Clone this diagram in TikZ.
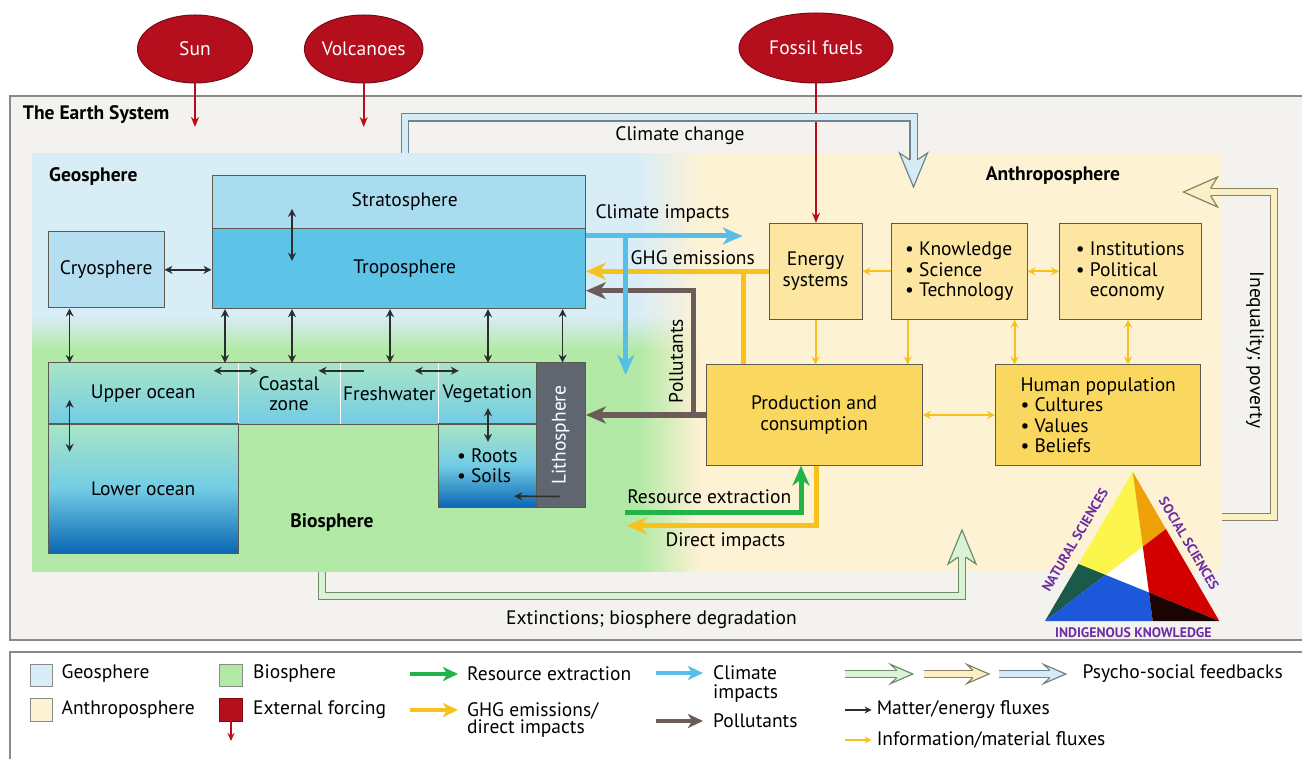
\documentclass[tikz,border=0pt]{standalone}
\usepackage{fontspec}
\setmainfont{PT Sans}
\usetikzlibrary{arrows.meta,shapes.geometric,calc}
\definecolor{esbg}{HTML}{F4F2EE}
\definecolor{esline}{HTML}{8A8A8A}
\definecolor{geoB}{HTML}{D9EDF7}
\definecolor{bioG}{HTML}{B3E9A6}
\definecolor{anthro}{HTML}{FDF2D4}
\definecolor{stratoC}{HTML}{A9DCEF}
\definecolor{tropoC}{HTML}{5EC4E7}
\definecolor{cryoC}{HTML}{B5DFF1}
\definecolor{seaTop}{HTML}{A8E5C6}
\definecolor{seaMid}{HTML}{72CCE5}
\definecolor{deep}{HTML}{0A67B2}
\definecolor{lithoC}{HTML}{5F6670}
\definecolor{boxline}{HTML}{5B5A50}
\definecolor{lightbox}{HTML}{FCE6A2}
\definecolor{darkbox}{HTML}{FAD75E}
\definecolor{ghgY}{HTML}{F8C21C}
\definecolor{impB}{HTML}{57BFE7}
\definecolor{resG}{HTML}{22B34A}
\definecolor{polB}{HTML}{6C5B59}
\definecolor{forceR}{HTML}{B50E1C}
\definecolor{forceD}{HTML}{7A0B12}
\definecolor{flux}{HTML}{2A2E30}
\definecolor{fbG}{HTML}{DAF3D6}
\definecolor{fbGl}{HTML}{6E8C6C}
\definecolor{fbY}{HTML}{FBEFC4}
\definecolor{fbYl}{HTML}{8C8262}
\definecolor{fbB}{HTML}{D5ECF7}
\definecolor{fbBl}{HTML}{6E8390}
\definecolor{purp}{HTML}{6C2EA6}
\definecolor{tY}{HTML}{FCF54C}
\definecolor{tO}{HTML}{EFA10A}
\definecolor{tR}{HTML}{D30000}
\definecolor{tG}{HTML}{1B5A48}
\definecolor{tBl}{HTML}{1D57DA}
\definecolor{tK}{HTML}{1C0404}
\newcommand{\fs}{\fontsize{19.5}{20.5}\selectfont}
\newcommand{\fbhead}[9]{%
  \begin{scope}[shift={(#1,#2)},rotate=#3]
    \fill[#4] (0,0) -- (-#6,#7) -- (-#8,#9) -- (-#8,-#9) -- (-#6,-#7) -- cycle;
    \draw[#5,line width=1.2pt,line join=miter] (-#8,#9) -- (-#6,#7) -- (0,0) -- (-#6,-#7) -- (-#8,-#9);
  \end{scope}}
\tikzset{
  lbl/.style={font=\fs, inner sep=0pt},
  blbl/.style={font=\fs\bfseries, inner sep=0pt},
  box/.style={draw=boxline, line width=1pt, inner sep=0pt, align=center, font=\fs},
  sea/.style={inner sep=0pt, font=\fs, align=center, top color=seaTop, bottom color=seaMid},
  deepsea/.style={inner sep=0pt, font=\fs, align=center, top color=seaTop, bottom color=deep, middle color=seaMid},
  ext/.style={ellipse, fill=forceR, draw=forceD, line width=1pt, text=white, font=\fs, inner sep=0pt},
  mflux/.style={draw=flux, line width=1.6pt, -{Stealth[length=8pt,width=8pt]}},
  mflux2/.style={draw=flux, line width=1.6pt, {Stealth[length=8pt,width=8pt]}-{Stealth[length=8pt,width=8pt]}},
  iflux/.style={draw=ghgY, line width=2pt, -{Stealth[length=8pt,width=8pt]}},
  iflux2/.style={draw=ghgY, line width=2pt, {Stealth[length=8pt,width=8pt]}-{Stealth[length=8pt,width=8pt]}},
  fat/.style={line width=5pt, line join=miter, -{Stealth[length=20pt,width=17pt,inset=6pt]}},
  fatline/.style={line width=5pt, line join=miter},
  lgfat/.style={line width=4.5pt, -{Stealth[length=15pt,width=14pt,inset=4pt]}},
  forcing/.style={draw=forceR, line width=1.6pt, -{Stealth[length=10pt,width=8pt]}},
  fb/.style={line width=1.2pt, double distance=6pt, line join=miter},
  tri/.style={text=purp, font=\fontsize{13.8}{15}\selectfont\bfseries, inner sep=0pt},
}
\begin{document}
\begin{tikzpicture}[x=1pt,y=-1pt]
\useasboundingbox (0,0) rectangle (1302,759);
\clip (0,0) rectangle (1302,759);
\fill[white] (0,0) rectangle (1302,759);

% Earth system and legend frames
\draw[fill=esbg, draw=esline, line width=1.3pt] (10,96) rectangle (1340,640);
\draw[fill=white, draw=esline, line width=1.3pt] (10,652) rectangle (1340,790);

% spheres background
\fill[anthro] (32,153) rectangle (1222,572);
\fill[geoB] (32,153) rectangle (641,316);
\shade[top color=geoB, bottom color=bioG] (32,315) rectangle (641,350);
\fill[bioG] (32,349) rectangle (641,572);
\foreach \i in {0,...,19}{%
  \pgfmathsetmacro{\xa}{640+3*\i}%
  \pgfmathsetmacro{\xb}{644+3*\i}%
  \pgfmathtruncatemacro{\pc}{97-5*\i}%
  \fill[geoB!\pc!anthro] (\xa,153) rectangle (\xb,316);
  \shade[top color=geoB!\pc!anthro, bottom color=bioG!\pc!anthro] (\xa,315) rectangle (\xb,350);
  \fill[bioG!\pc!anthro] (\xa,349) rectangle (\xb,572);
}

% titles
\node[blbl, anchor=west] (es) at (22.8,115) {The Earth System};
\node[blbl, anchor=west] (geo) at (49,176) {Geosphere};
\node[blbl] (bio) at (332,523) {Biosphere};
\node[blbl] (anth) at (1053,176) {Anthroposphere};

% external forcing
\node[ext, minimum width=115, minimum height=68] (sun) at (195,49) {Sun};
\node[ext, minimum width=116, minimum height=68] (volc) at (363.7,49) {Volcanoes};
\node[ext, minimum width=154, minimum height=70] (fossil) at (816,48) {Fossil fuels};

% geosphere boxes
\node[box, fill=stratoC, minimum width=373.4, minimum height=52.6] (strato) at (398.7,202) {\hspace*{12pt}Stratosphere};
\node[box, fill=tropoC, minimum width=373.4, minimum height=80.4] (tropo) at (398.7,268.5) {\hspace*{12pt}Troposphere};
\node[box, fill=cryoC, minimum width=115.5, minimum height=76.3] (cryo) at (106.25,269.85) {Cryosphere};

% surface row
\node[sea, minimum width=189.5, minimum height=61] (upper) at (143.25,393.5) {Upper ocean};
\node[sea, minimum width=102, minimum height=61] (coastal) at (289,393.5) {Coastal\\zone};
\node[sea, minimum width=98.6, minimum height=61] (fresh) at (389.3,393.5) {Freshwater};
\node[sea, minimum width=97.4, minimum height=61] (veg) at (487.3,393.5) {Vegetation};
\node[deepsea, minimum width=189.5, minimum height=129] (lower) at (143.25,488.5) {Lower ocean};
\node[deepsea, align=left, minimum width=97.4, minimum height=83] (roots) at (487.3,465.5) {• Roots\\• Soils};
\draw[white, line width=0.8pt] (upper.north east) -- (upper.south east);
\draw[white, line width=0.8pt] (coastal.north east) -- (coastal.south east);
\draw[white, line width=0.8pt] (fresh.north east) -- (fresh.south east);
\draw[boxline, line width=1pt] (upper.north west) rectangle (veg.south east);
\draw[boxline, line width=1pt] (lower.north west) rectangle (lower.south east);
\draw[boxline, line width=1pt] (roots.north west) rectangle (roots.south east);
\node[box, fill=lithoC, text=white, minimum width=49.4, minimum height=144] (litho) at (560.7,435) {\rotatebox{90}{Lithosphere}};

% anthroposphere boxes
\node[box, fill=lightbox, minimum width=93, minimum height=96] (energy) at (815.5,271.3) {Energy\\systems};
\node[box, fill=lightbox, align=left, minimum width=135.4, minimum height=96] (know) at (959.3,271.3) {• Knowledge\\• Science\\• Technology};
\node[box, fill=lightbox, align=left, minimum width=141.4, minimum height=96] (inst) at (1130.3,271.3) {• Institutions\\• Political\\\hphantom{•\ }economy};
\node[box, fill=darkbox, minimum width=216.3, minimum height=100] (prod) at (814.15,415) {Production and\\consumption};
\node[box, fill=darkbox, align=left, minimum width=205, minimum height=100] (human) at (1098.2,415) {Human population\\• Cultures\\• Values\\• Beliefs};

% column coordinates
\coordinate (xa) at (69.6,0);
\coordinate (xb) at (225,0);
\coordinate (xc) at (292,0);
\coordinate (xd) at (390,0);
\coordinate (xe) at (488,0);
\coordinate (xf) at (562.6,0);
\coordinate (xk1) at (907.8,0);
\coordinate (xk2) at (1014.6,0);
\coordinate (xk3) at (1128,0);

% matter/energy fluxes
\draw[mflux2] ($(strato.south -| xc)+(0,-20)$) -- ($(strato.south -| xc)+(0,32)$);
\draw[mflux2] (cryo.east) -- (tropo.west |- cryo.east);
\draw[mflux2] (cryo.south -| xa) -- (upper.north -| xa);
\draw[mflux2] (tropo.south -| xb) -- (upper.north -| xb);
\draw[mflux2] (tropo.south -| xc) -- (coastal.north -| xc);
\draw[mflux2] (tropo.south -| xd) -- (fresh.north -| xd);
\draw[mflux2] (tropo.south -| xe) -- (veg.north -| xe);
\draw[mflux2] (tropo.south -| xf) -- (litho.north -| xf);
\draw[mflux2] ($(upper.north -| xa)+(0,37)$) -- ($(lower.north -| xa)+(0,28)$);
\draw[mflux2] ($(upper.north east)+(-24.5,8)$) -- ($(coastal.north west)+(20,8)$);
\draw[mflux] ($(fresh.north west)+(24,8)$) -- ($(coastal.north east)+(-21.6,8)$);
\draw[mflux2] ($(fresh.north east)+(-24,8)$) -- ($(veg.north west)+(20.4,8)$);
\draw[mflux2] ($(veg.south -| xe)+(0,-16)$) -- ($(roots.north -| xe)+(0,18)$);
\draw[mflux] ($(litho.south east)+(-26.4,-11)$) -- ($(roots.south east)+(-22,-11)$);

% information/material fluxes
\draw[iflux] (know.west) -- (energy.east);
\draw[iflux2] (know.east) -- (inst.west);
\draw[iflux] (energy.south) -- (prod.north -| energy.south);
\draw[iflux] (know.south -| xk1) -- (prod.north -| xk1);
\draw[iflux2] (know.south -| xk2) -- (human.north -| xk2);
\draw[iflux2] (inst.south -| xk3) -- (human.north -| xk3);
\draw[iflux2] (prod.east) -- (human.west);

% forcing arrows
\coordinate (sunE) at (195,127);
\coordinate (volcE) at (363.7,127);
\draw[forcing] (sun.south) -- (sunE);
\draw[forcing] (volc.south) -- (volcE);
\draw[forcing] (fossil.south) -- (energy.north -| fossil.south);

% thick fluxes
\coordinate (ghgj) at (743.3,271.3);
\draw[fatline, draw=ghgY] (prod.north -| ghgj) -- (ghgj);
\draw[fat, draw=ghgY] (energy.west) -- (tropo.east |- energy.west);
\coordinate (polj) at (693.3,415);
\coordinate (polt) at (693.3,290.7);
\draw[fat, draw=polB] (prod.west) -- (litho.east |- prod.west);
\draw[fat, draw=polB] (polj) -- (polt) -- (tropo.east |- polt);
\coordinate (ciEnd) at (742.7,236);
\coordinate (ciDown) at (625.7,375);
\draw[fat, draw=impB] (tropo.east |- ciEnd) -- (ciEnd);
\draw[fat, draw=impB] (ciDown |- ciEnd) -- (ciDown);
\coordinate (rs) at (625,512);
\coordinate (rx) at (801,512);
\draw[fat, draw=resG] (rs) -- (rx) -- (prod.south -| rx);
\coordinate (dx) at (816.7,525.7);
\coordinate (de) at (626.7,525.7);
\draw[fat, draw=ghgY] (prod.south -| dx) -- (dx) -- (de);

% flux labels
\node[lbl] (lcc) at (680,136) {Climate change};
\node[lbl] (lci) at (662.5,214) {Climate impacts};
\node[lbl] (lghg) at (692.8,258) {GHG emissions};
\node[lbl, rotate=90] (lpol) at (676,361) {Pollutants};
\node[lbl] (lres) at (709.3,496.7) {Resource extraction};
\node[lbl] (ldir) at (725.5,541.7) {Direct impacts};
\node[lbl] (lext) at (651.5,620) {Extinctions; biosphere degradation};
\node[lbl, rotate=-90] (lineq) at (1255,350) {Inequality; poverty};

% psycho-social feedback arrows
\coordinate (cc0) at (405,153);
\coordinate (cc1) at (405,117.5);
\coordinate (cc2) at (913.5,117.5);
\coordinate (cc3) at (913.5,160);
\draw[fb, draw=fbBl, double=fbB] (cc0) -- (cc1) -- (cc2) -- (cc3);
\fbhead{913.5}{187}{-90}{fbB}{fbBl}{34}{14}{27}{3.6}
\coordinate (bd0) at (322,572);
\coordinate (bd1) at (322,596);
\coordinate (bd2) at (962,596);
\coordinate (bd3) at (962,557);
\draw[fb, draw=fbGl, double=fbG] (bd0) -- (bd1) -- (bd2) -- (bd3);
\fbhead{962}{530}{90}{fbG}{fbGl}{34}{14}{27}{3.6}
\coordinate (iq0) at (1222,517);
\coordinate (iq1) at (1274,517);
\coordinate (iq2) at (1274,192);
\coordinate (iq3) at (1210.5,192);
\draw[fb, draw=fbYl, double=fbY] (iq0) -- (iq1) -- (iq2) -- (iq3);
\fbhead{1183.5}{192}{180}{fbY}{fbYl}{34}{15}{27}{3.6}

% knowledge triangle
\coordinate (tA) at (1132.7,471.7);
\coordinate (tB) at (1045,621);
\coordinate (tC) at (1219.3,621);
\coordinate (tP1) at ($(tA)!0.384!(tC)$);
\coordinate (tP2) at (1152.7,621);
\coordinate (tP3) at ($(tA)!0.618!(tB)$);
\coordinate (tYR) at (intersection of tA--tP2 and tB--tP1);
\coordinate (tYB) at (intersection of tB--tP1 and tP3--tC);
\coordinate (tRB) at (intersection of tA--tP2 and tP3--tC);
\fill[white] (tA) -- (tB) -- (tC) -- cycle;
\fill[tY] (tA) -- (tP3) -- (tYB) -- (tYR) -- cycle;
\fill[tO] (tA) -- (tP1) -- (tYR) -- cycle;
\fill[tR] (tYR) -- (tP1) -- (tC) -- (tRB) -- cycle;
\fill[tG] (tB) -- (tP3) -- (tYB) -- cycle;
\fill[tBl] (tB) -- (tYB) -- (tRB) -- (tP2) -- cycle;
\fill[tK] (tRB) -- (tC) -- (tP2) -- cycle;
\node[tri, rotate=59.6] (natsci) at (1075,540) {NATURAL SCIENCES};
\node[tri, rotate=-59.6] (socsci) at (1189,543.5) {SOCIAL SCIENCES};
\node[tri] (indig) at (1133.3,632.7) {INDIGENOUS KNOWLEDGE};

% legend
\node[draw=esline, fill=geoB, minimum width=22.6, minimum height=22, inner sep=0pt] (lgGeo) at (41.3,675) {};
\node[lbl, anchor=west] (lgGeoT) at (61.4,674) {Geosphere};
\node[draw=esline, fill=anthro, minimum width=22.6, minimum height=23, inner sep=0pt] (lgAnt) at (41.3,709.5) {};
\node[lbl, anchor=west] (lgAntT) at (61.4,710) {Anthroposphere};
\node[draw=esline, fill=bioG, minimum width=22.8, minimum height=22, inner sep=0pt] (lgBio) at (231,675) {};
\node[lbl, anchor=west] (lgBioT) at (253,674) {Biosphere};
\node[draw=forceD, fill=forceR, minimum width=22.8, minimum height=23, inner sep=0pt] (lgExt) at (231,709.5) {};
\coordinate (lgExtE) at (231,741);
\draw[forcing, line width=1.3pt, -{Stealth[length=8pt,width=7pt]}] (lgExt.south) -- (lgExtE);
\node[lbl, anchor=west] (lgExtT) at (253,710) {External forcing};
\node[lbl, anchor=west] (lgResT) at (467,674) {Resource extraction};
\coordinate (lgRes0) at (409.6,674);
\draw[lgfat, draw=resG] (lgRes0) -- ($(lgResT.west)+(-9,0)$);
\node[lbl, anchor=west, align=left, font=\fontsize{19.5}{16.5}\selectfont] (lgGhgT) at (467,720) {GHG emissions/\\direct impacts};
\coordinate (lgGhg0) at (409.6,710);
\coordinate (lgGhg1) at (458,710);
\draw[lgfat, draw=ghgY] (lgGhg0) -- (lgGhg1);
\node[lbl, anchor=west, align=left, font=\fontsize{19.5}{18.5}\selectfont] (lgCiT) at (713,684) {Climate\\impacts};
\coordinate (lgCi0) at (656,673);
\coordinate (lgCi1) at (703,673);
\draw[lgfat, draw=impB] (lgCi0) -- (lgCi1);
\node[lbl, anchor=west] (lgPolT) at (713,721) {Pollutants};
\coordinate (lgPol0) at (656,721);
\draw[lgfat, draw=polB] (lgPol0) -- ($(lgPolT.west)+(-10,0)$);
\coordinate (lf1) at (845.4,674);
\coordinate (lf1e) at (896.8,674);
\draw[fb, draw=fbGl, double=fbG] (lf1) -- (lf1e);
\fbhead{912.8}{674}{0}{fbG}{fbGl}{22}{9.5}{16}{3.6}
\coordinate (lf2) at (923.6,674);
\coordinate (lf2e) at (973,674);
\draw[fb, draw=fbYl, double=fbY] (lf2) -- (lf2e);
\fbhead{989}{674}{0}{fbY}{fbYl}{22}{9.5}{16}{3.6}
\coordinate (lf3) at (999,674);
\coordinate (lf3e) at (1049.8,674);
\draw[fb, draw=fbBl, double=fbB] (lf3) -- (lf3e);
\fbhead{1065.8}{674}{0}{fbB}{fbBl}{22}{9.5}{16}{3.6}
\node[lbl, anchor=west] (lgFbT) at (1082.4,674) {Psycho-social feedbacks};
\node[lbl, anchor=west] (lgMT) at (876.6,710) {Matter/energy fluxes};
\coordinate (lgM0) at (845,710);
\draw[mflux, -{Stealth[length=7pt,width=7pt]}] (lgM0) -- ($(lgMT.west)+(-5,0)$);
\node[lbl, anchor=west] (lgIT) at (876.6,740) {Information/material fluxes};
\coordinate (lgI0) at (845,740);
\draw[iflux, -{Stealth[length=7pt,width=7pt]}] (lgI0) -- ($(lgIT.west)+(-5,0)$);
\end{tikzpicture}
\end{document}
